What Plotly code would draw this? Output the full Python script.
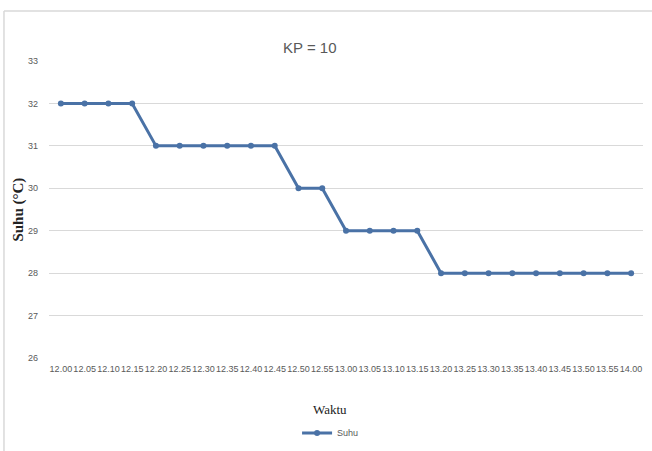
import plotly.graph_objects as go

# Measurement times and recorded temperatures
waktu = ["12.00", "12.05", "12.10", "12.15", "12.20", "12.25", "12.30", "12.35", "12.40",
         "12.45", "12.50", "12.55", "13.00", "13.05", "13.10", "13.15", "13.20", "13.25",
         "13.30", "13.35", "13.40", "13.45", "13.50", "13.55", "14.00"]
suhu = [32, 32, 32, 32, 31, 31, 31, 31, 31, 31, 30, 30, 29, 29, 29, 29,
        28, 28, 28, 28, 28, 28, 28, 28, 28]
y_ticks = [26, 27, 28, 29, 30, 31, 32, 33]

LINE = "#4a72a6"
GRID = "#d9d9d9"
TICK = "#595959"
SANS = "Liberation Sans, Arial, sans-serif"
SERIF = "Liberation Serif, Times New Roman, serif"

fig = go.Figure()
fig.add_trace(go.Scatter(
    x=waktu, y=suhu, name="Suhu", mode="lines+markers",
    line=dict(color=LINE, width=3),
    marker=dict(color=LINE, size=6, symbol="circle"),
))

fig.update_layout(
    width=652, height=451,
    margin=dict(l=49, r=9, t=61, b=93),
    paper_bgcolor="white", plot_bgcolor="white",
    showlegend=True,
    legend=dict(orientation="h", xref="container", yref="container",
                x=0.507, y=0.04, xanchor="center", yanchor="middle",
                font=dict(family=SANS, size=9, color=TICK), itemwidth=30),
    xaxis=dict(
        type="category", range=[-0.5, len(waktu) - 0.5],
        showgrid=False, zeroline=False, showline=False, ticks="",
        tickangle=0,
        tickfont=dict(family=SANS, size=9, color=TICK),
        ticklabelstandoff=4,
    ),
    yaxis=dict(
        range=[26, 33], tickvals=y_ticks,
        showgrid=True, gridcolor=GRID, gridwidth=1, zeroline=False, showline=False,
        ticks="", tickfont=dict(family=SANS, size=9, color=TICK),
        ticklabelstandoff=10,
    ),
    annotations=[
        dict(text="KP = 10", xref="paper", yref="paper", x=0.44, y=1.08,
             showarrow=False, font=dict(family=SANS, size=15, color=TICK)),
        dict(text="<b>Suhu (°C)</b>", xref="paper", yref="paper", x=-0.052, y=0.5,
             textangle=-90, showarrow=False, xanchor="center", yanchor="middle",
             font=dict(family=SERIF, size=15, color="#222222")),
        dict(text="Waktu", xref="paper", yref="paper", x=0.473, y=-0.175,
             showarrow=False, xanchor="center", yanchor="middle",
             font=dict(family=SERIF, size=13, color="#222222")),
    ],
    shapes=[
        dict(type="line", xref="paper", yref="paper", x0=-0.0758, x1=1.03, y0=1.168, y1=1.168,
             line=dict(color=GRID, width=1.5)),
        dict(type="line", xref="paper", yref="paper", x0=-0.0758, x1=-0.0758, y0=1.168, y1=-0.32,
             line=dict(color=GRID, width=1.5)),
    ],
)

fig.write_html("out.html")
